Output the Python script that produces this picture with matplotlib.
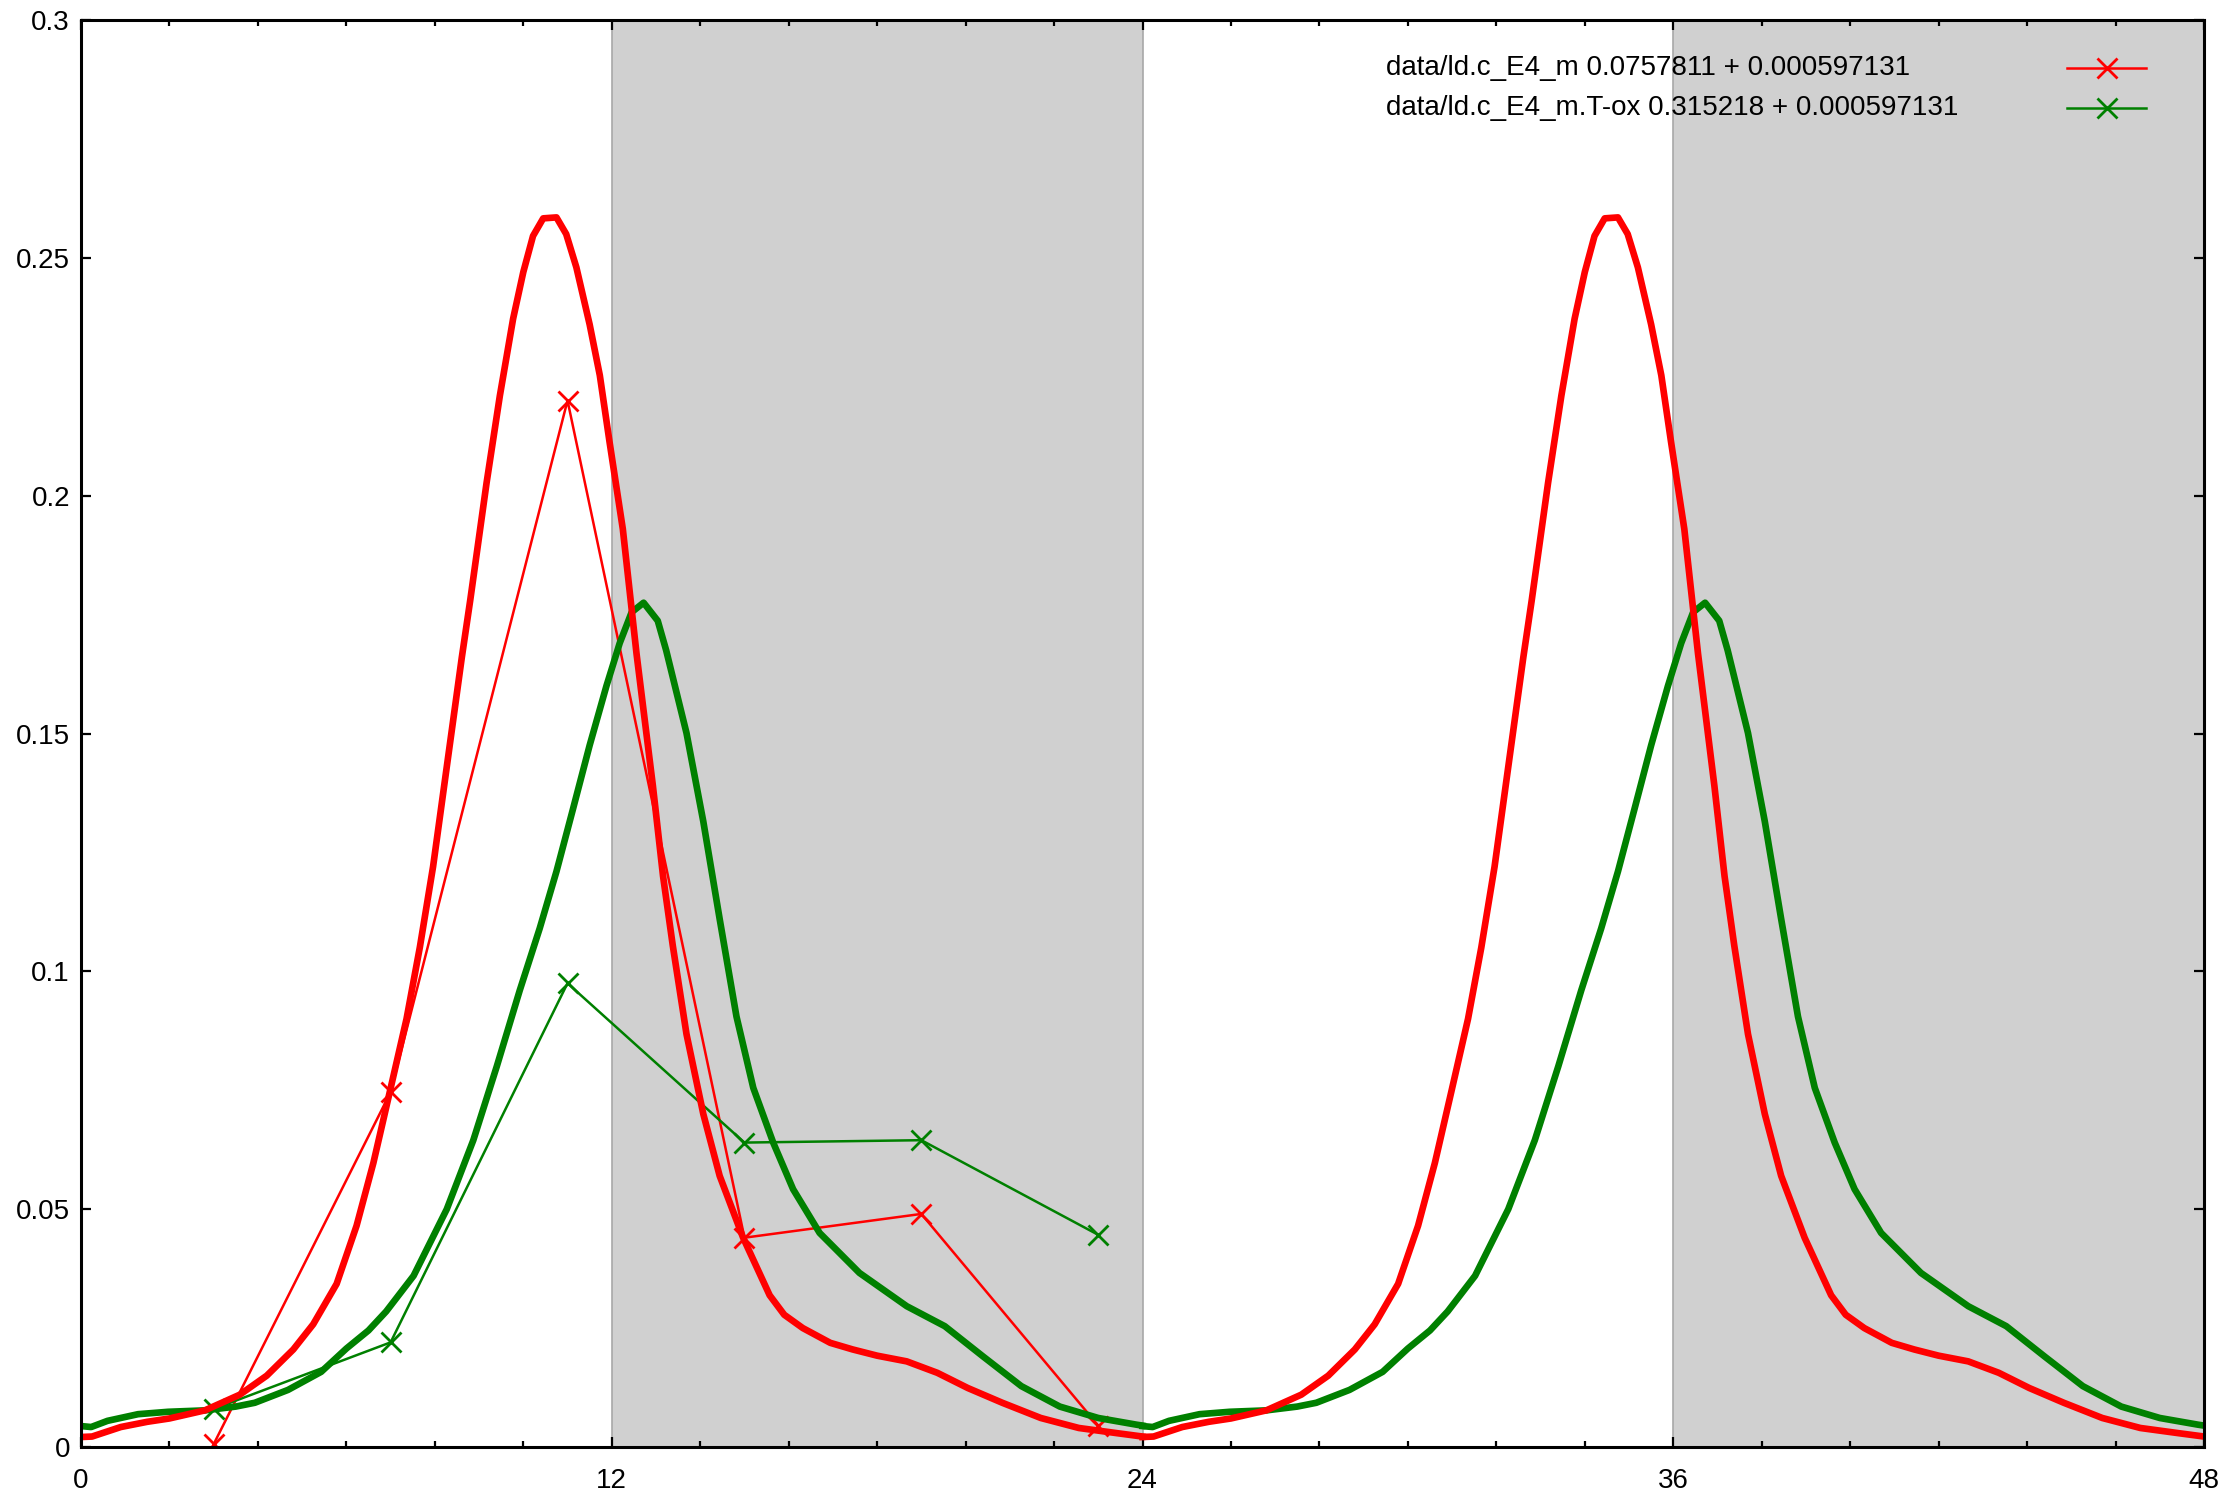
import matplotlib
matplotlib.use('Agg')
import matplotlib.pyplot as plt
from matplotlib.lines import Line2D

plt.rcParams['font.family'] = ['Liberation Sans', 'DejaVu Sans']

# measured data points (hours, value)
sample_hours = [3, 7, 11, 15, 19, 23]
red_points = [0.0006, 0.0746, 0.220, 0.044, 0.049, 0.0045]
green_points = [0.008, 0.022, 0.0975, 0.064, 0.0645, 0.0446]

# fitted curves, one 24 h cycle
red_fit_hours = [0.0, 0.25, 0.9, 1.5, 2.0, 2.8, 3.59, 4.2, 4.8, 5.25, 5.78, 6.23,
                 6.61, 6.98, 7.36, 7.66, 7.96, 8.27, 8.61, 8.8, 9.17, 9.47, 9.77,
                 10.0, 10.22, 10.45, 10.75, 10.97, 11.2, 11.5, 11.73, 11.95, 12.25,
                 12.56, 12.93, 13.16, 13.38, 13.69, 14.07, 14.44, 14.97, 15.57,
                 15.9, 16.32, 16.94, 17.45, 18.0, 18.67, 19.36, 20.05, 20.83, 21.7,
                 22.56, 23.43, 24.0]
red_fit = [0.0021, 0.0022, 0.0042, 0.0053, 0.0060, 0.0077, 0.0110, 0.0150, 0.0205,
           0.0258, 0.0343, 0.0465, 0.0597, 0.0746, 0.0900, 0.1050, 0.1220, 0.1430,
           0.1660, 0.1780, 0.2027, 0.2210, 0.2372, 0.2470, 0.2546, 0.2583, 0.2585,
           0.2550, 0.2480, 0.2360, 0.2253, 0.2113, 0.1930, 0.1668, 0.1390, 0.1200,
           0.1054, 0.0868, 0.0700, 0.0570, 0.0440, 0.0319, 0.0278, 0.0250, 0.0219,
           0.0205, 0.0192, 0.0180, 0.0156, 0.0124, 0.0093, 0.0061, 0.0040, 0.0029,
           0.0022]

green_fit_hours = [0.0, 0.23, 0.6, 1.29, 1.97, 2.8, 3.5, 3.93, 4.68, 5.43, 6.0, 6.5,
                   6.9, 7.52, 8.27, 8.87, 9.4, 9.92, 10.37, 10.75, 11.12, 11.5,
                   11.88, 12.18, 12.45, 12.72, 13.04, 13.23, 13.69, 14.07, 14.44,
                   14.82, 15.2, 15.65, 16.1, 16.7, 17.6, 18.67, 19.53, 20.4, 21.26,
                   22.13, 23.0, 23.86, 24.0]
green_fit = [0.0044, 0.0042, 0.0055, 0.0069, 0.0074, 0.0077, 0.0085, 0.0093, 0.0120,
             0.0158, 0.0207, 0.0245, 0.0285, 0.0360, 0.0500, 0.0645, 0.0800, 0.0960,
             0.1090, 0.1210, 0.1340, 0.1475, 0.1600, 0.1690, 0.1755, 0.1775, 0.1737,
             0.1675, 0.1501, 0.1315, 0.1110, 0.0905, 0.0755, 0.0640, 0.0542, 0.0450,
             0.0366, 0.0296, 0.0254, 0.0190, 0.0128, 0.0085, 0.0061, 0.0047, 0.0045]

cycle_offsets = [0, 24]
dark_periods = [(12, 24), (36, 48)]

red_label = "data/ld.c_E4_m 0.0757811 + 0.000597131"
green_label = "data/ld.c_E4_m.T-ox 0.315218 + 0.000597131"

RED = '#ff0000'
GREEN = '#008000'

fig = plt.figure(figsize=(22.31, 15.10), dpi=100)
ax = fig.add_axes([81 / 2231, 63 / 1510, (2204 - 81) / 2231, (1447 - 20) / 1510])

for a, b in dark_periods:
    ax.axvspan(a, b, facecolor='#d0d0d0', edgecolor='#a8a8a8', linewidth=1.2, zorder=0)

ax.plot(sample_hours, red_points, color=RED, lw=1.8, marker='x', ms=14, mew=2.0,
        zorder=3)
ax.plot(sample_hours, green_points, color=GREEN, lw=1.8, marker='x', ms=14, mew=2.0,
        zorder=3)

for off in cycle_offsets:
    ax.plot([h + off for h in green_fit_hours], green_fit, color=GREEN, lw=4.8,
            solid_joinstyle='round', zorder=4)
    ax.plot([h + off for h in red_fit_hours], red_fit, color=RED, lw=4.8,
            solid_joinstyle='round', zorder=5)

ax.set_xlim(0, 48)
ax.set_ylim(0, 0.3)
ax.set_xticks([0, 12, 24, 36, 48])
ax.set_xticks(list(range(0, 49, 2)), minor=True)
yt = [0, 0.05, 0.1, 0.15, 0.2, 0.25, 0.3]
ax.set_yticks(yt)
ax.set_yticklabels(['0', '0.05', '0.1', '0.15', '0.2', '0.25', '0.3'])
ax.tick_params(which='both', direction='in', top=True, right=True, width=1.6,
               labelsize=20, colors='black')
ax.tick_params(which='major', length=7)
ax.tick_params(which='minor', length=4)
ax.tick_params(axis='x', pad=15)
ax.tick_params(axis='y', pad=8)
for s in ax.spines.values():
    s.set_linewidth(2.2)
    s.set_zorder(6)

# key (gnuplot style: left-justified text, sample to the right)
key_rows = [(red_label, RED, 0.9661), (green_label, GREEN, 0.9384)]
for label, color, yk in key_rows:
    ax.text(0.6147, yk, label, transform=ax.transAxes, ha='left', va='center',
            fontsize=20, zorder=7)
    ax.add_line(Line2D([0.9355, 0.9727], [yk, yk], transform=ax.transAxes,
                       color=color, lw=1.8, zorder=7))
    ax.add_line(Line2D([0.9541], [yk], transform=ax.transAxes, color=color,
                       marker='x', ms=14, mew=2.0, lw=0, zorder=7))

fig.savefig('out.png', dpi=100)
